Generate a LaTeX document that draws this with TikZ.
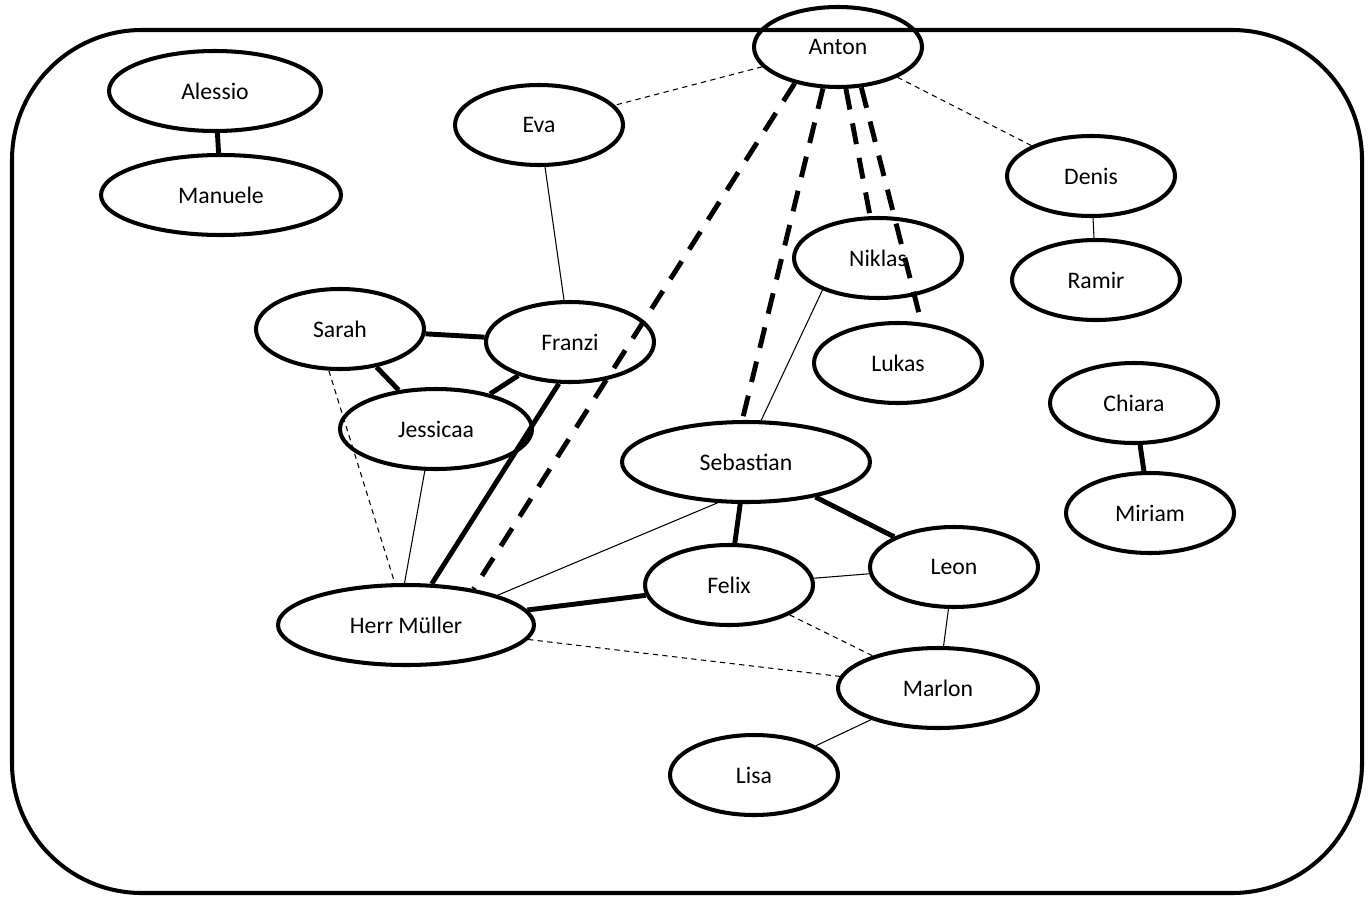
\documentclass[tikz,border=0pt]{standalone}
\usepackage{fontspec}
\setmainfont{Carlito}
\usetikzlibrary{shapes.geometric}
\begin{document}
\begin{tikzpicture}[x=0.02cm,y=-0.02cm,
  p/.style={draw,ellipse,line width=2.3pt,minimum width=168*0.02cm,minimum height=80*0.02cm,inner sep=0pt,font=\fontsize{13.5}{16}\selectfont},
  thk/.style={line width=2.8pt},
  thn/.style={line width=0.6pt},
  tdash/.style={line width=0.6pt,dash pattern=on 3pt off 2.5pt},
  kdash/.style={line width=2.8pt,dash pattern=on 12pt off 8pt}]
\useasboundingbox (0,0) rectangle (1371,906);
\draw[line width=2.3pt,rounded corners=2.6cm] (12,30) rectangle (1362,893);
\node[p] (anton) at (838,47) {Anton};
\node[p,minimum width=212*0.02cm] (alessio) at (215,91) {Alessio};
\node[p,minimum width=240*0.02cm] (manuele) at (221,195) {Manuele};
\node[p] (eva) at (539,125) {Eva};
\node[p] (denis) at (1091,176) {Denis};
\node[p] (ramir) at (1096,280) {Ramir};
\node[p] (niklas) at (878,258) {Niklas};
\node[p] (lukas) at (898,363) {Lukas};
\node[p] (sarah) at (340,329) {Sarah};
\node[p] (franzi) at (570,342) {Franzi};
\node[p,minimum width=192*0.02cm] (jess) at (436,429) {Jessicaa};
\node[p] (chiara) at (1134,403) {Chiara};
\node[p] (miriam) at (1150,513) {Miriam};
\node[p,minimum width=248*0.02cm] (seb) at (746,462) {Sebastian};
\node[p] (leon) at (954,567) {Leon};
\node[p] (felix) at (729,585) {Felix};
\node[p,minimum width=256*0.02cm] (hm) at (406,625) {Herr Müller};
\node[p,minimum width=200*0.02cm] (marlon) at (938,688) {Marlon};
\node[p] (lisa) at (754,775) {Lisa};

\draw[tdash] (anton) -- (eva);
\draw[tdash] (anton) -- (denis);
\draw[kdash] (anton.220) -- (hm.28);
\draw[kdash] (anton.250) -- (seb.95);
\draw[kdash] (anton) -- (niklas);
\draw[kdash] (anton.300) -- (lukas.60);
\draw[thk] (alessio) -- (manuele);
\draw[thn] (denis) -- (ramir);
\draw[thn] (eva) -- (franzi);
\draw[thn] (niklas.210) -- (seb.70);
\draw[thk] (sarah) -- (franzi);
\draw[thk] (sarah) -- (jess);
\draw[thk] (franzi) -- (jess);
\draw[thk] (franzi.255) -- (hm.58);
\draw[tdash] (sarah.255) -- (hm.105);
\draw[thn] (jess.255) -- (hm.92);
\draw[thk] (chiara) -- (miriam);
\draw[thk] (seb) -- (felix);
\draw[thk] (seb) -- (leon);
\draw[thn] (seb.235) -- (hm.18);
\draw[thk] (felix) -- (hm);
\draw[thn] (felix) -- (leon);
\draw[tdash] (felix) -- (marlon);
\draw[thn] (leon) -- (marlon);
\draw[tdash] (hm) -- (marlon);
\draw[thn] (marlon) -- (lisa);
\end{tikzpicture}
\end{document}
